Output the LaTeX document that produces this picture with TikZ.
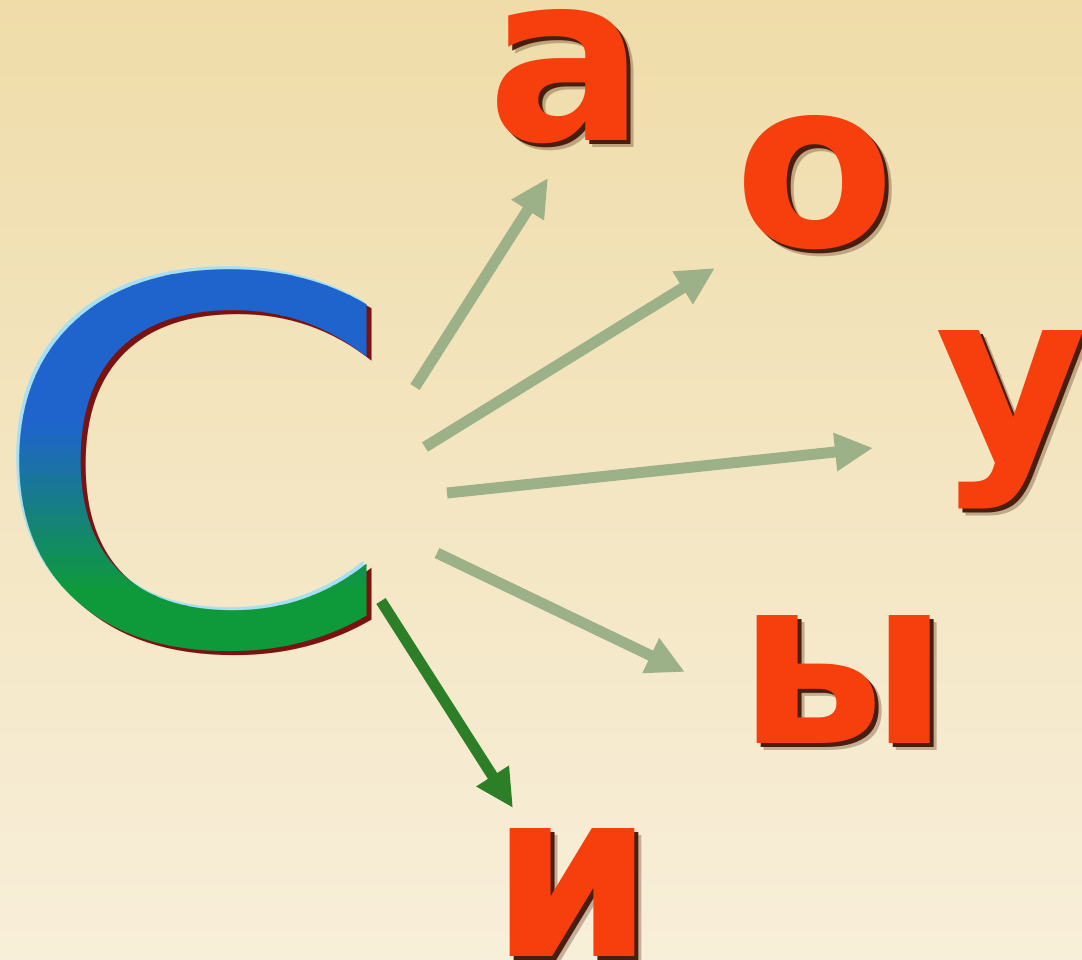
\documentclass[tikz,border=0pt]{standalone}
\usepackage{fontspec}
\usepackage{tikz}
\usetikzlibrary{arrows.meta}
\newfontfamily\letterfont{DejaVu Sans}
\newfontfamily\bigfont{DejaVu Sans}
\definecolor{bgtop}{HTML}{EFDCA9}
\definecolor{bgbot}{HTML}{F8EFDA}
\definecolor{letterred}{HTML}{F63F0C}
\definecolor{shadowbrown}{HTML}{4A1E0C}
\definecolor{arrowsage}{HTML}{9DB189}
\definecolor{arrowgreen}{HTML}{2D7F27}
\definecolor{cblue}{HTML}{1E64CC}
\definecolor{cgreen}{HTML}{0E9A3A}
\definecolor{crim}{HTML}{A6E0F2}
\definecolor{cdark}{HTML}{7A1212}

% red letter with a soft dark shadow
\newcommand{\redletter}[3]{%
  \node[letter, text=shadowbrown, opacity=0.3, xshift=7pt, yshift=-7pt] (#1s2) at #2 {#3};
  \node[letter, text=shadowbrown, xshift=4pt, yshift=-4pt] (#1s) at #2 {#3};
  \node[letter] (#1) at #2 {#3};}

\begin{document}
\begin{tikzpicture}[x=1pt, y=-1pt, >={Triangle[length=38pt,width=36pt]},
    letter/.style={font=\letterfont\bfseries\fontsize{234}{234}\selectfont, text=letterred, anchor=base, inner sep=0pt},
    bigletter/.style={font=\bigfont\fontsize{505}{505}\selectfont, anchor=base, inner sep=0pt, xscale=1.17},
    sage/.style={->, draw=arrowsage, line width=11pt},
    darkarrow/.style={->, draw=arrowgreen, line width=11pt}]
  \shade[top color=bgtop, bottom color=bgbot] (0,0) rectangle (1082,960);
  \useasboundingbox (0,0) rectangle (1082,960);

  % the big letter: rim, shadow, then blue-green bands
  \node[bigletter, text=crim, xshift=-3pt, yshift=3pt] (Crim) at (193,644) {С};
  \node[bigletter, text=cdark, xshift=4pt, yshift=-4pt] (Cdark) at (193,644) {С};
  \foreach \i in {0,...,41} {
    \pgfmathsetmacro\ytop{255+\i*10}
    \pgfmathsetmacro\mix{min(100,max(0,(\ytop+5-425)/165*100))}
    \begin{scope}
      \clip (0,\ytop) rectangle (420,\ytop+10.6);
      \node[bigletter, text=cgreen!\mix!cblue] (C\i) at (193,644) {С};
    \end{scope}
  }

  % vowels
  \redletter{A}{(566,141)}{а}
  \redletter{O}{(815,247)}{о}
  \redletter{U}{(1012,458)}{у}
  \redletter{Y}{(843,743)}{ы}
  \redletter{I}{(572,956)}{и}

  \coordinate (fromA) at (415,387); \coordinate (toA) at (548,178);
  \coordinate (fromO) at (425,447); \coordinate (toO) at (715,268);
  \coordinate (fromU) at (447,493); \coordinate (toU) at (873,448);
  \coordinate (fromY) at (437,553); \coordinate (toY) at (685,672);
  \coordinate (fromI) at (381,601); \coordinate (toI) at (513,808);

  \draw[sage] (fromA) -- (toA);
  \draw[sage] (fromO) -- (toO);
  \draw[sage] (fromU) -- (toU);
  \draw[sage] (fromY) -- (toY);
  \draw[darkarrow] (fromI) -- (toI);
\end{tikzpicture}
\end{document}
